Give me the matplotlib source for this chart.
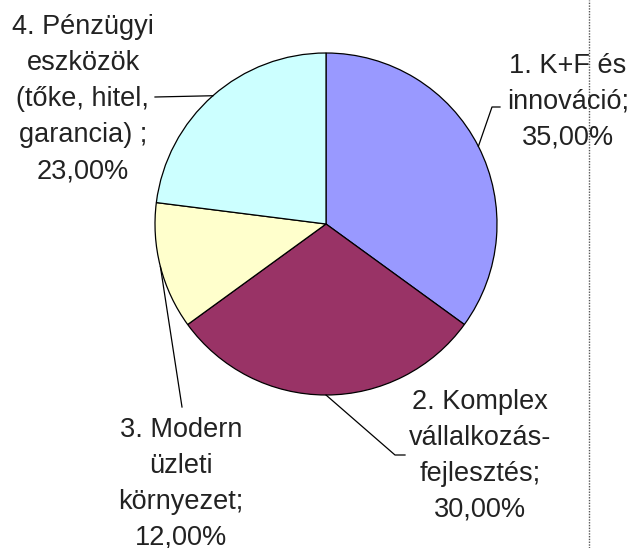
import numpy as np
import matplotlib
matplotlib.use("Agg")
import matplotlib.pyplot as plt

# adatok
cimkek = ["1. K+F és\ninnováció;\n35,00%",
          "2. Komplex\nvállalkozás-\nfejlesztés;\n30,00%",
          "3. Modern\nüzleti\nkörnyezet;\n12,00%",
          "4. Pénzügyi\neszközök\n(tőke, hitel,\ngarancia) ;\n23,00%"]
ertekek = [35.0, 30.0, 12.0, 23.0]
szinek = ["#9999FF", "#993366", "#FFFFCC", "#CCFFFF"]

W, H = 631, 548
plt.rcParams['font.family'] = ['Liberation Sans', 'DejaVu Sans']

fig = plt.figure(figsize=(W / 100, H / 100), dpi=100)
ax = fig.add_axes([0, 0, 1, 1])

cx, cy, r = 326, H - 224, 171
wedges, _ = ax.pie(ertekek, colors=szinek, startangle=90, counterclock=False,
                   center=(cx, cy), radius=r, frame=True,
                   wedgeprops=dict(edgecolor='black', linewidth=0.9))
ax.set_xlim(0, W)
ax.set_ylim(0, H)
ax.set_aspect('equal')
ax.axis('off')

# szöveg helye (pixelben, felülről mérve) és a vezetővonal töréspontjai
szoveg_hely = [(568, 102), (480, 456), (181, 484), (83, 99)]
torespontok = [[(492, 107), (500, 107)],
               [(395, 455), (405, 455)],
               [(182, 407)],
               [(155, 97)]]

for w, txt, (tx, ty), pts in zip(wedges, cimkek, szoveg_hely, torespontok):
    ang = np.deg2rad((w.theta1 + w.theta2) / 2)
    x0 = cx + r * np.cos(ang)
    y0 = cy + r * np.sin(ang)
    xs = [x0] + [p[0] for p in pts]
    ys = [y0] + [H - p[1] for p in pts]
    ax.plot(xs, ys, color='black', lw=0.9)
    ax.text(tx, H - ty, txt, ha='center', va='center', fontsize=19.5,
            linespacing=1.5, color='#222222')

# pontozott függőleges vonal
ax.axvline(589, color='#555555', lw=1, ls=(0, (1, 1)))

fig.savefig("out.png", dpi=100)
